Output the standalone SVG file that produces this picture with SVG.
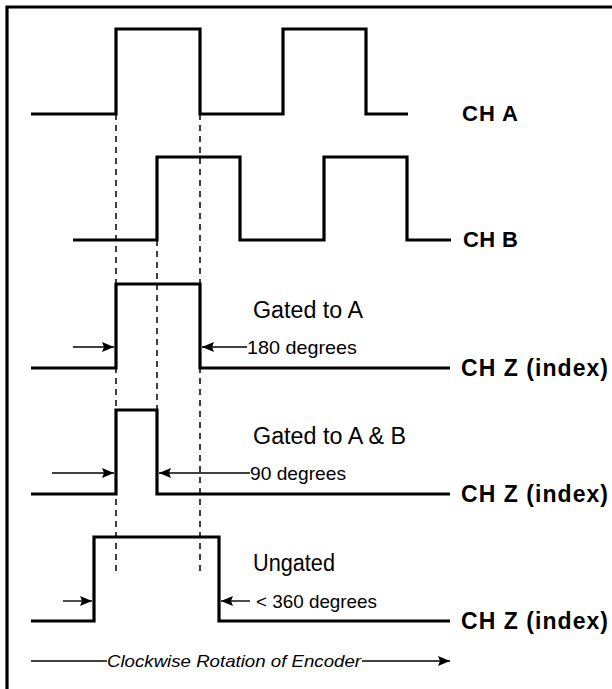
<svg xmlns="http://www.w3.org/2000/svg" width="612" height="689" viewBox="0 0 612 689">
<style>
.sig{fill:none;stroke:#000;stroke-width:3.2;stroke-linejoin:miter;stroke-linecap:butt}
.dash{fill:none;stroke:#000;stroke-width:1.5;stroke-dasharray:6 5}
.arr{fill:none;stroke:#000;stroke-width:1.4}
.lbl{font-family:"Liberation Sans",Arial,sans-serif;font-weight:bold;font-size:23px;fill:#000}
.lbs{font-family:"Liberation Sans",Arial,sans-serif;font-weight:bold;font-size:22px;fill:#000}
.cap{font-family:"Liberation Sans",Arial,sans-serif;font-size:23px;fill:#000}
.deg{font-family:"Liberation Sans",Arial,sans-serif;font-size:19px;fill:#000}
.rot{font-family:"Liberation Sans",Arial,sans-serif;font-style:italic;font-size:17px;fill:#000}
</style>
<defs>
<marker id="ah" viewBox="0 0 12 10" refX="12" refY="5" markerWidth="12" markerHeight="10" markerUnits="userSpaceOnUse" orient="auto">
<path d="M0,0 L12,5 L0,10 L2,5 Z" fill="#000"/>
</marker>
</defs>
<rect width="612" height="689" fill="#fff"/>
<g id="frame">
<path class="sig" d="M7,689 V7 H612"/>
</g>
<g id="connectors">
<line class="dash" x1="116" y1="114" x2="116" y2="572"/>
<line class="dash" x1="200" y1="114" x2="200" y2="572"/>
<line class="dash" x1="157" y1="240" x2="157" y2="410"/>
<line class="arr" x1="73" y1="347" x2="114" y2="347" marker-end="url(#ah)"/>
<line class="arr" x1="247" y1="347" x2="202" y2="347" marker-end="url(#ah)"/>
<line class="arr" x1="52" y1="473" x2="114" y2="473" marker-end="url(#ah)"/>
<line class="arr" x1="250" y1="473" x2="159" y2="473" marker-end="url(#ah)"/>
<line class="arr" x1="63" y1="601" x2="92" y2="601" marker-end="url(#ah)"/>
<line class="arr" x1="250" y1="601" x2="221" y2="601" marker-end="url(#ah)"/>
<line class="arr" x1="31" y1="661" x2="107" y2="661"/>
<line class="arr" x1="362" y1="661" x2="450" y2="661" marker-end="url(#ah)"/>
</g>
<g id="ch-a">
<path class="sig" d="M31,114 H116 V29 H200 V114 H283 V29 H366 V114 H408"/>
<text class="lbs" x="462" y="121" textLength="56" lengthAdjust="spacing">CH A</text>
</g>
<g id="ch-b">
<path class="sig" d="M73,240 H157 V157 H240 V240 H324 V157 H407 V240 H451"/>
<text class="lbs" x="463" y="247" textLength="55" lengthAdjust="spacing">CH B</text>
</g>
<g id="ch-z-gated-a">
<path class="sig" d="M31,368 H116 V284 H200 V368 H450"/>
<text class="cap" x="253" y="318" textLength="110" lengthAdjust="spacingAndGlyphs">Gated to A</text>
<text class="deg" x="247" y="354" textLength="110" lengthAdjust="spacingAndGlyphs">180 degrees</text>
<text class="lbl" x="461" y="376" textLength="147" lengthAdjust="spacing">CH Z (index)</text>
</g>
<g id="ch-z-gated-ab">
<path class="sig" d="M31,494 H116 V410 H157 V494 H450"/>
<text class="cap" x="253" y="444" textLength="153" lengthAdjust="spacingAndGlyphs">Gated to A &amp; B</text>
<text class="deg" x="250" y="480" textLength="96" lengthAdjust="spacingAndGlyphs">90 degrees</text>
<text class="lbl" x="461" y="502" textLength="147" lengthAdjust="spacing">CH Z (index)</text>
</g>
<g id="ch-z-ungated">
<path class="sig" d="M31,621 H94 V537 H219 V621 H450"/>
<text class="cap" x="253" y="571" textLength="82" lengthAdjust="spacingAndGlyphs">Ungated</text>
<text class="deg" x="256" y="608" textLength="121" lengthAdjust="spacingAndGlyphs">&lt; 360 degrees</text>
<text class="lbl" x="461" y="629" textLength="147" lengthAdjust="spacing">CH Z (index)</text>
</g>
<g id="rotation">
<text class="rot" x="107" y="667" textLength="254" lengthAdjust="spacingAndGlyphs">Clockwise Rotation of Encoder</text>
</g>
</svg>
